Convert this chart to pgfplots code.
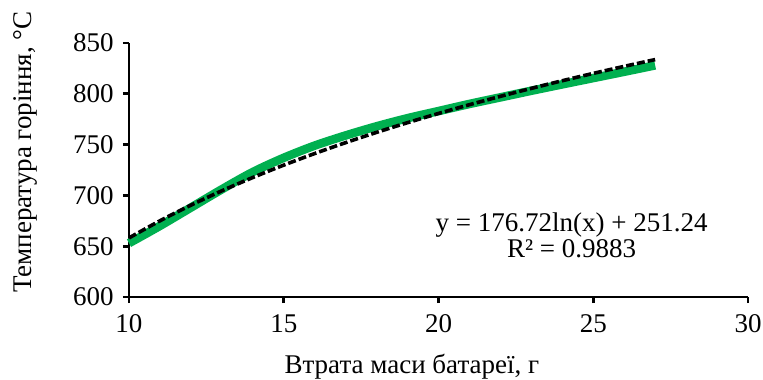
\documentclass[border=0pt]{standalone}
\usepackage{pgfplots}
\pgfplotsset{compat=1.18}
\usepackage{fontspec}
\setmainfont{Liberation Serif}
\definecolor{exgreen}{RGB}{0,176,80}
\begin{document}
\fontsize{13.5}{15}\selectfont
\begin{tikzpicture}
\useasboundingbox (-64.5pt,-41pt) rectangle (317pt,148.5pt);
\begin{axis}[
  at={(0,0)}, anchor=south west,
  scale only axis, width=309.5pt, height=127pt,
  xmin=10, xmax=30, ymin=600, ymax=850,
  axis x line*=bottom, axis y line*=left,
  axis line style={-, line width=1.4pt, black},
  xtick={10,15,20,25,30}, ytick={600,650,700,750,800,850},
  tick align=outside, major tick length=3pt,
  tick style={black, line width=1.4pt},
  /pgf/number format/assume math mode=true,
  tick label style={font=\fontsize{13.5}{15}\selectfont},
  xticklabel style={yshift=-1pt},
  xlabel={Втрата маси батареї, г},
  ylabel={Температура горіння, °C},
  xlabel style={at={(axis description cs:0.457,-0.3)}, anchor=base, font=\fontsize{13.5}{15}\selectfont},
  ylabel style={at={(axis description cs:-0.168,0.57)}, anchor=center, font=\fontsize{13.5}{15}\selectfont},
  clip=false,
]
\addplot[exgreen, line width=4.3pt, smooth] coordinates {
(10,653) (11,670) (12,688) (13,706) (14,723) (15,737) (16,749) (17,759)
(18,768) (19,776) (20,783) (21,790) (22,796.5) (23,803) (24,809.3) (25,815.5)
(26,821.7) (27,828)};
\addplot[black, line width=1.8pt, dash pattern=on 4pt off 1.5pt, smooth] coordinates {
(10,658.15) (11,675.00) (12,690.37) (13,704.52) (14,717.61) (15,729.81)
(16,741.21) (17,751.93) (18,762.03) (19,771.58) (20,780.65) (21,789.27)
(22,797.49) (23,805.34) (24,812.87) (25,820.08) (26,827.01) (27,833.68)};
\node[align=center, inner sep=0pt, font=\fontsize{13.5}{13}\selectfont] at (axis cs:24.3,660.5) {y = 176.72ln(x) + 251.24\\R² = 0.9883};
\end{axis}
\end{tikzpicture}
\end{document}
